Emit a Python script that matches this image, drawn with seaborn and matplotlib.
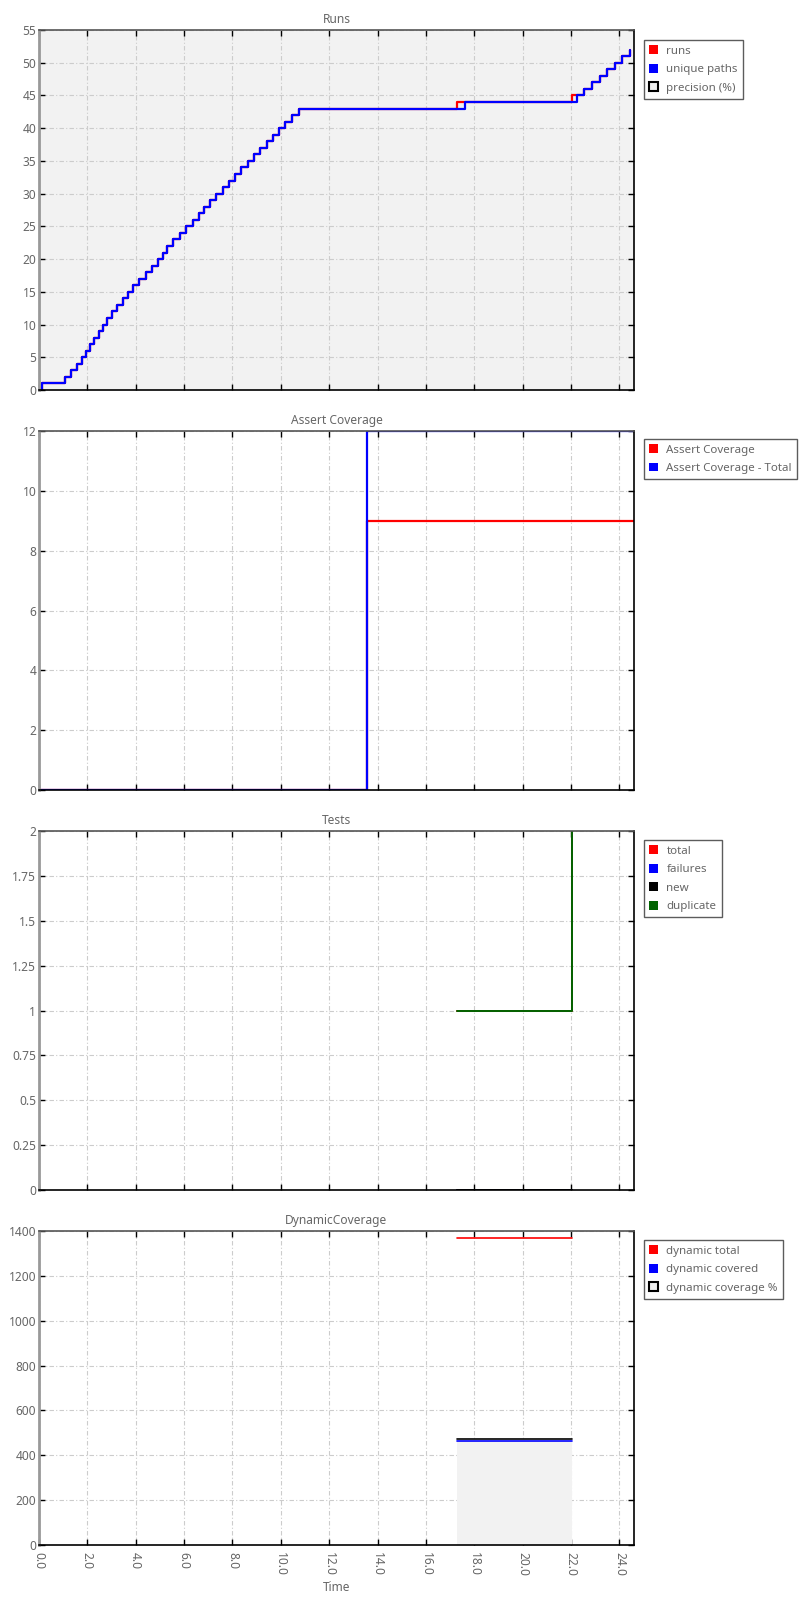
import matplotlib
matplotlib.use("Agg")
import matplotlib.pyplot as plt
from matplotlib.patches import Patch
from matplotlib.ticker import FuncFormatter, MultipleLocator
import numpy as np
import pandas as pd
import seaborn as sns

# ---------------- data ----------------
run_times = [0.0, 0.11, 1.08, 1.31, 1.56, 1.77, 1.93, 2.11, 2.29, 2.46, 2.63, 2.83,
             3.03, 3.24, 3.46, 3.70, 3.90, 4.14, 4.43, 4.68, 4.91, 5.12, 5.31, 5.56,
             5.81, 6.08, 6.36, 6.61, 6.84, 7.08, 7.32, 7.60, 7.85, 8.11, 8.36, 8.63,
             8.90, 9.14, 9.42, 9.67, 9.94, 10.18, 10.46, 10.73,
             17.28, 17.63, 22.05, 22.26, 22.53, 22.88, 23.18, 23.50, 23.80, 24.12, 24.42]
runs = list(range(0, 44)) + [44, 44, 45, 45, 46, 47, 48, 49, 50, 51, 52]
unique_paths = list(range(0, 44)) + [43, 44, 44, 45, 46, 47, 48, 49, 50, 51, 52]

assert_times = [0.0, 13.57, 24.6]
assert_cov = [0, 9, 9]
assert_cov_total = [0, 12, 12]

test_times = [17.28, 22.05]
tests_total = [1, 2]
tests_failures = [0, 0]
tests_new = [0, 0]
tests_duplicate = [1, 2]

dyn_times = [17.28, 22.05]
dyn_total = [1367, 1367]
dyn_covered = [465, 465]
dyn_cov_pct = [474, 474]

x_ticks = [0, 2, 4, 6, 8, 10, 12, 14, 16, 18, 20, 22, 24]

# ---------------- style ----------------
sns.set_theme(style="white")
plt.rcParams['font.family'] = ['Noto Sans', 'DejaVu Sans']
TXT = '#666666'
GRID = '#cccccc'
FS = 8.6
LFS = 8.3

fig = plt.figure(figsize=(8, 16), dpi=100)
L, W = 39 / 800, (634 - 39) / 800


def make_ax(top_px, bot_px):
    return fig.add_axes([L, 1 - bot_px / 1600, W, (bot_px - top_px) / 1600])


def style_ax(ax, title, ymax, ystep, show_x=False, bg='white'):
    ax.set_facecolor(bg)
    ax.set_xlim(0, 24.6)
    ax.set_ylim(0, ymax)
    ax.set_xticks(x_ticks)
    ax.yaxis.set_major_locator(MultipleLocator(ystep))
    ax.yaxis.set_major_formatter(FuncFormatter(lambda v, p: f"{v:g}"))
    ax.grid(True, color=GRID, linestyle=(0, (4, 2, 1, 2)), linewidth=0.8)
    ax.set_axisbelow(True)
    ax.tick_params(axis='both', which='major', direction='in', length=4, width=1,
                   color='black', labelsize=FS, labelcolor=TXT,
                   top=True, right=True, bottom=True, left=True, pad=2)
    if show_x:
        ax.tick_params(axis='x', pad=5)
        ax.xaxis.set_major_formatter(FuncFormatter(lambda v, p: f"{v:.1f}"))
        for lbl in ax.get_xticklabels():
            lbl.set_rotation(270)
            lbl.set_ha('center')
            lbl.set_va('top')
        ax.set_xlabel('Time', fontsize=FS, color=TXT, labelpad=4)
    else:
        ax.tick_params(axis='x', labelbottom=False)
        ax.set_xlabel('')
    ax.set_ylabel('')
    ax.set_title(title, fontsize=FS, color=TXT, pad=5)
    for side in ['bottom', 'right']:
        ax.spines[side].set_color('black')
        ax.spines[side].set_linewidth(1.2)
    ax.spines['left'].set_color('#999999')
    ax.spines['left'].set_linewidth(2)
    ax.spines['top'].set_color('#555555')
    ax.spines['top'].set_linewidth(1.2)


def add_legend(ax, items, ytop):
    handles = []
    for lab, col, kind in items:
        if kind == 'fill':
            handles.append(Patch(facecolor='#eeeeee', edgecolor='black', linewidth=1.5, label=lab))
        else:
            handles.append(Patch(facecolor=col, edgecolor='none', label=lab))
    leg = ax.legend(handles=handles, loc='upper left', bbox_to_anchor=(1.0168, ytop),
                    borderaxespad=0, fontsize=LFS, frameon=True, fancybox=False,
                    handlelength=0.8, handleheight=0.8, handletextpad=0.7,
                    labelspacing=0.62, borderpad=0.45, shadow=False)
    leg.get_frame().set_edgecolor('#333333')
    leg.get_frame().set_linewidth(1.0)
    for t in leg.get_texts():
        t.set_color(TXT)


def steps(ax, x, y, color, lw=1.6):
    df = pd.DataFrame({'t': x, 'v': y})
    sns.lineplot(data=df, x='t', y='v', ax=ax, color=color, linewidth=lw,
                 drawstyle='steps-post', estimator=None, sort=False, legend=False)


# ---- panel 1: Runs ----
ax1 = make_ax(30, 390)
steps(ax1, run_times, runs, 'red')
steps(ax1, run_times, unique_paths, 'blue')
style_ax(ax1, 'Runs', 55, 5, bg='#f2f2f2')
add_legend(ax1, [('runs', 'red', 'sq'), ('unique paths', 'blue', 'sq'),
                 ('precision (%)', None, 'fill')], 0.972)

# ---- panel 2: Assert Coverage ----
ax2 = make_ax(431, 790)
steps(ax2, assert_times, assert_cov, 'red')
steps(ax2, assert_times, assert_cov_total, 'blue')
style_ax(ax2, 'Assert Coverage', 12, 2)
add_legend(ax2, [('Assert Coverage', 'red', 'sq'),
                 ('Assert Coverage - Total', 'blue', 'sq')], 0.978)

# ---- panel 3: Tests ----
ax3 = make_ax(831, 1190)
steps(ax3, test_times, tests_total, 'red', 1.4)
steps(ax3, test_times, tests_failures, 'blue', 1.4)
steps(ax3, test_times, tests_new, 'black', 1.4)
steps(ax3, test_times, tests_duplicate, '#006400', 1.4)
style_ax(ax3, 'Tests', 2, 0.25)
add_legend(ax3, [('total', 'red', 'sq'), ('failures', 'blue', 'sq'),
                 ('new', 'black', 'sq'), ('duplicate', '#006400', 'sq')], 0.975)

# ---- panel 4: DynamicCoverage ----
ax4 = make_ax(1231, 1545)
ax4.fill_between(dyn_times, 0, dyn_covered, color='#f2f2f2', linewidth=0, zorder=1.5)
steps(ax4, dyn_times, dyn_total, 'red', 1.2)
steps(ax4, dyn_times, dyn_cov_pct, 'black', 1.2)
steps(ax4, dyn_times, dyn_covered, 'blue', 1.2)
style_ax(ax4, 'DynamicCoverage', 1400, 200, show_x=True)
add_legend(ax4, [('dynamic total', 'red', 'sq'), ('dynamic covered', 'blue', 'sq'),
                 ('dynamic coverage %', None, 'fill')], 0.971)

fig.savefig('out.png', dpi=100)
